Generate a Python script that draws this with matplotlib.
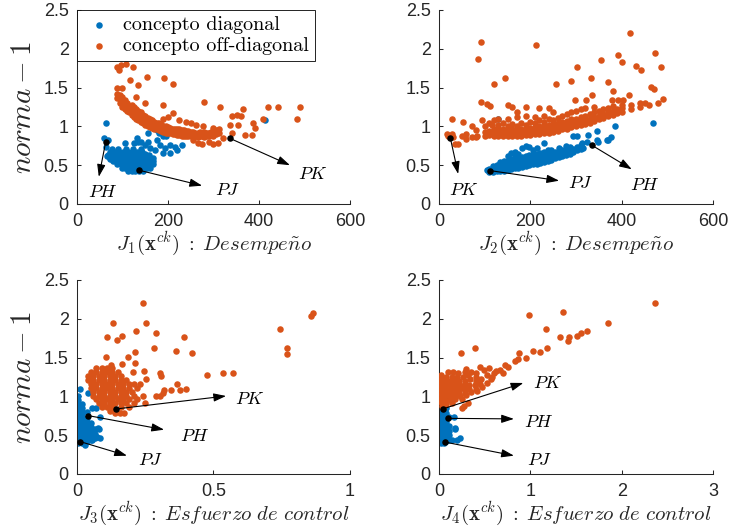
import numpy as np
import matplotlib
matplotlib.use("Agg")
import matplotlib.pyplot as plt

plt.rcParams['mathtext.fontset'] = 'cm'
plt.rcParams['font.family'] = ['Liberation Sans', 'DejaVu Sans']

BLUE = '#0072BD'
ORANGE = '#D95319'
GRAY = '#262626'

series_labels = ['concepto diagonal', 'concepto off-diagonal']

# ---------------- Panel 1: J1 vs norma-1 ----------------
p1_diag = [
    (63, 1.04), (59, 0.85), (68, 0.82), (63, 0.73), (66, 0.62), (72, 0.58), (105, 0.78), (125, 0.78),
    (131, 0.85), (135, 0.80), (140, 0.80), (150, 0.76), (160, 0.72), (165, 1.00), (175, 0.95), (180, 0.92),
    (190, 0.87), (196, 0.88), (175, 0.83), (182, 0.76), (193, 0.72), (204, 0.76), (215, 0.74), (230, 0.76),
    (171, 0.70), (189, 0.66), (149, 0.65), (205, 0.66), (220, 0.70), (413, 1.08), (157, 0.91), (155, 0.80),
    (112, 0.43), (120, 0.43), (128, 0.43), (136, 0.43), (144, 0.43),
    (98, 0.47), (106, 0.47), (114, 0.47), (122, 0.47), (130, 0.47), (138, 0.47), (146, 0.47), (154, 0.47), (160, 0.47),
    (88, 0.51), (96, 0.51), (104, 0.51), (112, 0.51), (120, 0.51), (128, 0.51), (136, 0.51), (144, 0.51), (152, 0.51),
    (160, 0.51), (166, 0.51),
    (80, 0.55), (88, 0.55), (96, 0.55), (104, 0.55), (112, 0.55), (120, 0.55), (128, 0.55), (136, 0.55), (144, 0.55),
    (152, 0.55), (160, 0.55), (168, 0.55),
    (72, 0.59), (80, 0.59), (88, 0.59), (96, 0.59), (104, 0.59), (112, 0.59), (120, 0.59), (128, 0.59), (136, 0.59),
    (144, 0.59), (152, 0.59), (160, 0.59), (168, 0.59),
    (68, 0.63), (76, 0.63), (86, 0.63), (94, 0.63), (102, 0.63), (110, 0.63), (118, 0.63), (126, 0.63), (134, 0.63),
    (142, 0.63), (150, 0.63), (158, 0.63),
    (72, 0.67), (82, 0.67), (92, 0.67), (102, 0.67), (112, 0.67), (122, 0.67), (132, 0.67), (142, 0.67),
    (76, 0.71), (90, 0.71), (108, 0.71), (124, 0.71), (140, 0.71),
]
p1_off = [
    (87, 1.77), (92, 1.73), (108, 1.81), (123, 1.77), (97, 1.79),
    (88, 1.50), (98, 1.49), (116, 1.60), (134, 1.53), (153, 1.64), (191, 1.62), (211, 1.55), (189, 1.28),
    (279, 1.31), (314, 1.25), (365, 1.22), (341, 1.14), (420, 1.25), (442, 1.25), (490, 1.25), (483, 1.10),
    (409, 1.10), (387, 1.04), (391, 0.98), (369, 0.89), (385, 0.89), (354, 1.02), (336, 1.02), (352, 1.15),
    (360, 1.13), (340, 0.91), (150, 1.30), (130, 1.38), (225, 1.08), (240, 1.06), (262, 1.02), (212, 1.17),
    (200, 1.12), (190, 1.10), (278, 1.00), (300, 0.98), (250, 1.04),
    (88, 1.42), (88, 1.36), (95, 1.40), (95, 1.30), (95, 1.35), (100, 1.33), (100, 1.25), (100, 1.38),
    (105, 1.28), (105, 1.22), (105, 1.34), (110, 1.30), (110, 1.20), (110, 1.25), (115, 1.18), (115, 1.26),
    (115, 1.22), (120, 1.15), (120, 1.23), (120, 1.28), (125, 1.12), (125, 1.19), (125, 1.25), (130, 1.10),
    (130, 1.16), (130, 1.22), (135, 1.08), (135, 1.14), (135, 1.20), (140, 1.06), (140, 1.12), (140, 1.18),
    (145, 1.04), (145, 1.10), (145, 1.15), (150, 1.02), (150, 1.08), (150, 1.13), (155, 1.01), (155, 1.06),
    (155, 1.11), (160, 0.99), (160, 1.04), (160, 1.09), (165, 0.98), (165, 1.03), (165, 1.08), (170, 0.97),
    (170, 1.01), (170, 1.06), (175, 0.96), (175, 1.00), (175, 1.05), (180, 0.95), (180, 0.99), (180, 1.04),
    (185, 0.94), (185, 0.98), (185, 1.03), (190, 0.93), (190, 0.97), (190, 1.01), (195, 0.92), (195, 0.96),
    (195, 1.00), (200, 0.92), (200, 0.95), (200, 0.99), (205, 0.91), (205, 0.94), (205, 0.98), (210, 0.90),
    (210, 0.94), (210, 0.97), (215, 0.90), (215, 0.93), (215, 0.97), (220, 0.89), (220, 0.93), (220, 0.96),
    (225, 0.89), (225, 0.92), (225, 0.96), (230, 0.88), (230, 0.92), (230, 0.95), (235, 0.88), (235, 0.91),
    (235, 0.95), (240, 0.88), (240, 0.91), (240, 0.94), (245, 0.87), (245, 0.90), (245, 0.94), (250, 0.87),
    (250, 0.90), (250, 0.93), (255, 0.87), (255, 0.90), (255, 0.93), (260, 0.87), (260, 0.89), (260, 0.92),
    (265, 0.86), (265, 0.90), (265, 0.92), (270, 0.87), (270, 0.90), (270, 0.93), (275, 0.87), (275, 0.91),
    (280, 0.86), (280, 0.90), (280, 0.93), (285, 0.88), (285, 0.92), (290, 0.87), (290, 0.91), (295, 0.89),
    (295, 0.93), (300, 0.88), (300, 0.94), (305, 0.90), (305, 0.95), (312, 0.92), (312, 0.96),
    (265, 0.78), (275, 0.77), (300, 0.77), (310, 0.79), (255, 0.82), (290, 0.80), (320, 0.85),
]

# ---------------- Panel 2: J2 vs norma-1 ----------------
p2_diag = [
    (104, 0.44), (110, 0.41), (110, 0.45), (118, 0.41), (118, 0.45), (118, 0.49), (126, 0.42), (126, 0.46),
    (126, 0.50), (134, 0.42), (134, 0.46), (134, 0.50), (134, 0.54), (142, 0.43), (142, 0.47), (142, 0.51),
    (142, 0.55), (150, 0.44), (150, 0.48), (150, 0.52), (150, 0.56), (150, 0.62), (158, 0.45), (158, 0.49),
    (158, 0.53), (158, 0.58), (158, 0.66), (166, 0.46), (166, 0.50), (166, 0.54), (166, 0.60), (166, 0.67),
    (174, 0.47), (174, 0.51), (174, 0.55), (174, 0.60), (174, 0.65), (182, 0.48), (182, 0.52), (182, 0.56),
    (182, 0.61), (182, 0.72), (190, 0.49), (190, 0.53), (190, 0.57), (190, 0.62), (190, 0.75), (198, 0.50),
    (198, 0.54), (198, 0.58), (198, 0.63), (198, 0.74), (206, 0.51), (206, 0.55), (206, 0.59), (206, 0.64),
    (206, 0.70), (214, 0.52), (214, 0.56), (214, 0.60), (214, 0.65), (214, 0.72), (222, 0.53), (222, 0.57),
    (222, 0.61), (222, 0.66), (230, 0.54), (230, 0.58), (230, 0.62), (230, 0.67), (230, 0.78), (238, 0.56),
    (238, 0.60), (238, 0.64), (238, 0.69), (246, 0.57), (246, 0.61), (246, 0.65), (246, 0.70), (254, 0.59),
    (254, 0.63), (254, 0.67), (262, 0.60), (262, 0.64), (262, 0.68), (262, 0.72), (270, 0.62), (270, 0.66),
    (270, 0.70), (278, 0.63), (278, 0.67), (278, 0.71), (278, 0.75), (286, 0.65), (286, 0.69), (286, 0.73),
    (294, 0.67), (294, 0.71), (294, 0.87), (302, 0.69), (302, 0.73), (302, 0.87), (310, 0.71), (310, 0.76),
    (468, 1.04), (386, 1.00), (347, 0.94), (326, 0.89), (349, 0.80), (369, 0.83), (377, 0.86), (313, 0.78),
    (316, 0.72), (345, 0.82), (367, 0.82), (323, 0.80), (130, 1.10),
]
p2_off = [
    (86, 1.87), (92, 2.09), (213, 2.05), (120, 1.55), (145, 1.63), (92, 1.31), (104, 1.29), (112, 1.26),
    (152, 1.28), (160, 1.25), (170, 1.19), (191, 1.25), (219, 1.24), (240, 1.24), (257, 1.55), (289, 1.59),
    (303, 1.76), (297, 1.34), (322, 1.34), (335, 1.40), (333, 1.62), (355, 1.86), (371, 1.57), (391, 1.92),
    (400, 1.83), (419, 2.20), (431, 1.78), (443, 1.73), (473, 1.94), (485, 1.77), (490, 1.35), (471, 1.48),
    (465, 1.51), (452, 1.30), (382, 1.45), (393, 1.34), (378, 1.34), (403, 1.34), (415, 1.40),
    (17, 0.90), (29, 0.90), (42, 0.77), (35, 0.77), (50, 0.87), (29, 1.10), (53, 1.06), (72, 1.00), (72, 0.86),
    (84, 0.88), (94, 1.08), (115, 1.02),
    (20, 0.88), (30, 0.86), (60, 0.84), (60, 0.90), (80, 0.86), (80, 0.95), (100, 0.88), (100, 0.93),
    (100, 1.00), (110, 0.89), (110, 0.94), (110, 1.05), (120, 0.88), (120, 0.92), (120, 0.97), (120, 1.08),
    (130, 0.87), (130, 0.91), (130, 0.96), (130, 1.02), (130, 1.10), (140, 0.88), (140, 0.92), (140, 0.97),
    (140, 1.05), (150, 0.87), (150, 0.91), (150, 0.95), (150, 1.00), (150, 1.10), (160, 0.88), (160, 0.92),
    (160, 0.96), (160, 1.03), (170, 0.87), (170, 0.91), (170, 0.95), (170, 1.00), (170, 1.12), (180, 0.88),
    (180, 0.92), (180, 0.96), (180, 1.04), (190, 0.89), (190, 0.93), (190, 0.97), (190, 1.02), (190, 1.13),
    (200, 0.89), (200, 0.93), (200, 0.98), (200, 1.06), (210, 0.90), (210, 0.94), (210, 0.99), (210, 1.04),
    (210, 1.12), (220, 0.90), (220, 0.95), (220, 1.00), (220, 1.08), (230, 0.91), (230, 0.96), (230, 1.01),
    (230, 1.06), (230, 1.14), (240, 0.92), (240, 0.97), (240, 1.02), (240, 1.10), (250, 0.93), (250, 0.98),
    (250, 1.03), (250, 1.08), (250, 1.18), (260, 0.94), (260, 0.99), (260, 1.04), (260, 1.11), (270, 0.96),
    (270, 1.01), (270, 1.06), (270, 1.13), (280, 0.97), (280, 1.02), (280, 1.07), (280, 1.16), (290, 0.99),
    (290, 1.04), (290, 1.09), (290, 1.18), (300, 1.00), (300, 1.05), (300, 1.10), (300, 1.20), (310, 1.02),
    (310, 1.07), (310, 1.12), (310, 1.22), (320, 1.03), (320, 1.08), (320, 1.14), (320, 1.24), (330, 1.05),
    (330, 1.10), (330, 1.16), (340, 1.07), (340, 1.12), (340, 1.18), (340, 1.25), (350, 1.09), (350, 1.14),
    (350, 1.20), (360, 1.11), (360, 1.16), (360, 1.22), (370, 1.13), (370, 1.18), (370, 1.24), (380, 1.15),
    (380, 1.20), (380, 1.26), (390, 1.17), (390, 1.22), (400, 1.19), (400, 1.24), (400, 1.28), (420, 1.22),
    (420, 1.27), (440, 1.25), (440, 1.30), (460, 1.27), (480, 1.30),
]

# ---------------- Panel 3: J3 vs norma-1 ----------------
p3_diag = [
    (0.005, 0.40), (0.005, 0.45), (0.005, 0.50), (0.005, 0.55), (0.005, 0.60), (0.005, 0.65), (0.005, 0.70),
    (0.005, 0.75), (0.005, 0.80), (0.005, 0.85), (0.005, 0.90), (0.005, 0.95), (0.005, 1.00),
    (0.02, 0.40), (0.02, 0.45), (0.02, 0.50), (0.02, 0.55), (0.02, 0.60), (0.02, 0.65), (0.02, 0.70),
    (0.02, 0.75), (0.02, 0.80), (0.02, 0.85), (0.02, 0.90),
    (0.035, 0.42), (0.035, 0.47), (0.035, 0.52), (0.035, 0.57), (0.035, 0.62), (0.035, 0.67), (0.035, 0.72),
    (0.035, 0.80), (0.05, 0.44), (0.05, 0.49), (0.05, 0.55), (0.05, 0.60), (0.05, 0.66),
    (0.065, 0.46), (0.065, 0.52), (0.065, 0.58),
    (0.011, 1.10), (0.041, 1.04), (0.054, 0.85), (0.071, 0.85), (0.086, 0.73), (0.078, 0.59), (0.072, 0.48),
    (0.054, 0.44), (0.029, 0.37), (0.086, 0.47), (0.080, 0.58),
]
p3_off = [
    (0.07, 1.36), (0.09, 1.36), (0.11, 1.36), (0.13, 1.36),
    (0.05, 1.31), (0.07, 1.31), (0.09, 1.31), (0.11, 1.31), (0.13, 1.31), (0.15, 1.31),
    (0.04, 1.26), (0.06, 1.26), (0.08, 1.26), (0.10, 1.26), (0.12, 1.26), (0.14, 1.26), (0.16, 1.26),
    (0.04, 1.21), (0.06, 1.21), (0.08, 1.21), (0.10, 1.21), (0.12, 1.21), (0.14, 1.21), (0.16, 1.21), (0.18, 1.21),
    (0.05, 1.16), (0.07, 1.16), (0.09, 1.16), (0.11, 1.16), (0.13, 1.16), (0.15, 1.16), (0.17, 1.16), (0.19, 1.16),
    (0.21, 1.16), (0.23, 1.16),
    (0.05, 1.11), (0.07, 1.11), (0.09, 1.11), (0.11, 1.11), (0.13, 1.11), (0.15, 1.11), (0.17, 1.11), (0.19, 1.11),
    (0.22, 1.11),
    (0.06, 1.06), (0.08, 1.06), (0.10, 1.06), (0.12, 1.06), (0.14, 1.06), (0.16, 1.06), (0.18, 1.06), (0.20, 1.06),
    (0.06, 1.01), (0.08, 1.01), (0.10, 1.01), (0.12, 1.01), (0.14, 1.01), (0.16, 1.01), (0.18, 1.01), (0.21, 1.01),
    (0.24, 1.01),
    (0.07, 0.96), (0.09, 0.96), (0.11, 0.96), (0.13, 0.96), (0.15, 0.96), (0.17, 0.96), (0.19, 0.96), (0.22, 0.96),
    (0.08, 0.91), (0.10, 0.91), (0.12, 0.91), (0.14, 0.91), (0.16, 0.91), (0.18, 0.91), (0.21, 0.91), (0.25, 0.91),
    (0.09, 0.86), (0.11, 0.86), (0.13, 0.86), (0.16, 0.86), (0.19, 0.86), (0.12, 0.81), (0.14, 0.81),
    (0.138, 0.78), (0.156, 0.78), (0.171, 0.78),
    (0.24, 2.20), (0.133, 1.95), (0.252, 1.95), (0.11, 1.77), (0.147, 1.73), (0.166, 1.78), (0.218, 1.84),
    (0.291, 1.82), (0.392, 1.77), (0.282, 1.62), (0.364, 1.59), (0.422, 1.56), (0.212, 1.57), (0.212, 1.43),
    (0.166, 1.42), (0.187, 1.51), (0.105, 1.51), (0.126, 1.41), (0.244, 1.33), (0.205, 1.32), (0.303, 1.30),
    (0.309, 1.26), (0.254, 1.22), (0.477, 1.28), (0.535, 1.30), (0.570, 1.30), (0.367, 1.16), (0.401, 1.10),
    (0.377, 1.08), (0.344, 1.08), (0.320, 1.08), (0.315, 1.04), (0.289, 1.00), (0.303, 1.00),
    (0.743, 1.87), (0.770, 1.62), (0.770, 1.55), (0.858, 2.04), (0.865, 2.08),
]

# ---------------- Panel 4: J4 vs norma-1 ----------------
p4_diag = [
    (0.02, 0.40), (0.02, 0.45), (0.02, 0.50), (0.02, 0.55), (0.02, 0.60), (0.02, 0.65), (0.02, 0.70),
    (0.02, 0.75), (0.02, 0.80), (0.02, 0.85), (0.02, 0.90), (0.02, 0.95), (0.02, 1.00),
    (0.05, 0.40), (0.05, 0.45), (0.05, 0.50), (0.05, 0.55), (0.05, 0.60), (0.05, 0.65), (0.05, 0.70),
    (0.05, 0.75), (0.05, 0.80), (0.05, 0.85), (0.05, 0.90), (0.05, 0.95),
    (0.08, 0.42), (0.08, 0.47), (0.08, 0.52), (0.08, 0.57), (0.08, 0.62), (0.08, 0.67), (0.08, 0.72),
    (0.08, 0.78), (0.08, 0.85), (0.11, 0.44), (0.11, 0.50), (0.11, 0.56), (0.11, 0.62),
    (0.106, 0.74), (0.16, 0.74), (0.18, 0.59), (0.23, 0.46), (0.20, 0.44), (0.14, 0.44), (0.17, 0.58),
    (0.07, 0.98),
]
p4_off = [
    (0.02, 1.28), (0.10, 1.31), (0.15, 1.31), (0.21, 1.30), (0.28, 1.32),
    (0.02, 1.23), (0.08, 1.25), (0.14, 1.25), (0.20, 1.25), (0.26, 1.25), (0.32, 1.27), (0.40, 1.25),
    (0.02, 1.18), (0.07, 1.20), (0.12, 1.20), (0.17, 1.20), (0.22, 1.20), (0.28, 1.20), (0.34, 1.22),
    (0.40, 1.20), (0.46, 1.22),
    (0.02, 1.13), (0.07, 1.15), (0.12, 1.15), (0.17, 1.15), (0.22, 1.15), (0.27, 1.15), (0.33, 1.15),
    (0.39, 1.15), (0.45, 1.16), (0.52, 1.17),
    (0.02, 1.08), (0.07, 1.10), (0.12, 1.10), (0.17, 1.10), (0.22, 1.10), (0.27, 1.10), (0.33, 1.10),
    (0.40, 1.10), (0.47, 1.12),
    (0.02, 1.03), (0.07, 1.05), (0.12, 1.05), (0.17, 1.05), (0.22, 1.05), (0.28, 1.05), (0.35, 1.06),
    (0.42, 1.07),
    (0.02, 0.98), (0.07, 1.00), (0.12, 1.00), (0.17, 1.00), (0.23, 1.01), (0.30, 1.02),
    (0.02, 0.93), (0.07, 0.95), (0.12, 0.95), (0.18, 0.96), (0.25, 0.97),
    (0.03, 0.88), (0.08, 0.90), (0.14, 0.91), (0.27, 0.88), (0.32, 0.91), (0.04, 0.85), (0.25, 0.85),
    (0.55, 1.37), (0.49, 1.34), (0.60, 1.30), (0.62, 1.33), (0.67, 1.34), (0.72, 1.41), (0.83, 1.45),
    (0.86, 1.48), (0.88, 1.56), (0.95, 1.49), (1.03, 1.59), (1.11, 1.57), (1.18, 1.62), (1.17, 1.87),
    (0.98, 2.05), (1.32, 1.77), (1.36, 2.09), (1.41, 1.72), (1.42, 1.76), (1.51, 1.78), (1.56, 1.82),
    (1.62, 1.84), (1.85, 1.95), (2.37, 2.20), (0.39, 1.63), (0.24, 1.56), (0.45, 1.38), (0.52, 1.28),
    (0.57, 1.22), (0.35, 1.32), (0.30, 1.35), (0.40, 1.30), (0.58, 1.25), (0.76, 1.38), (0.70, 1.30),
]

# Highlighted solutions: (name, point, arrow head, label position)
p1_marks = [('PH', (63, 0.795), (48, 0.35), (57, 0.15)),
            ('PJ', (137, 0.434), (275, 0.236), (331, 0.17)),
            ('PK', (336, 0.846), (468, 0.50), (519, 0.38))]
p2_marks = [('PK', (25, 0.846), (42, 0.387), (55, 0.17)),
            ('PJ', (112, 0.43), (263, 0.30), (311, 0.266)),
            ('PH', (335, 0.756), (422, 0.447), (451, 0.24))]
p3_marks = [('PK', (0.143, 0.838), (0.546, 1.005), (0.634, 0.96)),
            ('PH', (0.0415, 0.752), (0.319, 0.571), (0.43, 0.48)),
            ('PJ', (0.012, 0.417), (0.183, 0.236), (0.27, 0.18))]
p4_marks = [('PK', (0.04, 0.838), (0.923, 1.173), (1.19, 1.16)),
            ('PH', (0.095, 0.717), (0.82, 0.71), (1.095, 0.666)),
            ('PJ', (0.07, 0.41), (0.82, 0.236), (1.10, 0.18))]

xlabels = [r'$J_1(\mathbf{x}^{ck})\;:\;Desempe\tilde{n}o$',
           r'$J_2(\mathbf{x}^{ck})\;:\;Desempe\tilde{n}o$',
           r'$J_3(\mathbf{x}^{ck})\;:\;Esfuerzo\ de\ control$',
           r'$J_4(\mathbf{x}^{ck})\;:\;Esfuerzo\ de\ control$']
ylabel = r'$norma - 1$'
xlims = [(0, 600), (0, 600), (0, 1), (0, 3)]
xticks = [[0, 200, 400, 600], [0, 200, 400, 600], [0, 0.5, 1], [0, 1, 2, 3]]
xticklabels = [['0', '200', '400', '600'], ['0', '200', '400', '600'], ['0', '0.5', '1'], ['0', '1', '2', '3']]
yticks = [0, 0.5, 1, 1.5, 2, 2.5]
yticklabels = ['0', '0.5', '1', '1.5', '2', '2.5']

fig = plt.figure(figsize=(7.29, 5.29), dpi=100)
positions = [[0.1056, 0.6144, 0.3745, 0.3667], [0.6022, 0.6144, 0.3759, 0.3667],
             [0.1056, 0.1040, 0.3745, 0.3667], [0.6022, 0.1040, 0.3759, 0.3667]]
diag_sets = [p1_diag, p2_diag, p3_diag, p4_diag]
off_sets = [p1_off, p2_off, p3_off, p4_off]
mark_sets = [p1_marks, p2_marks, p3_marks, p4_marks]

for i in range(4):
    ax = fig.add_axes(positions[i])
    d = np.array(diag_sets[i])
    o = np.array(off_sets[i])
    ax.scatter(d[:, 0], d[:, 1], s=22, color=BLUE, linewidths=0, label=series_labels[0], zorder=2)
    ax.scatter(o[:, 0], o[:, 1], s=22, color=ORANGE, linewidths=0, label=series_labels[1], zorder=3)
    for name, pt, head, lab in mark_sets[i]:
        ax.scatter([pt[0]], [pt[1]], s=22, color='k', linewidths=0, zorder=5)
        ax.annotate('', xy=head, xytext=pt,
                    arrowprops=dict(arrowstyle='-|>,head_length=0.75,head_width=0.25',
                                    color='k', lw=0.8, shrinkA=0, shrinkB=0), zorder=4)
        ax.text(lab[0], lab[1], '$' + name + '$', ha='center', va='center', fontsize=13, color='k')
    ax.set_xlim(*xlims[i])
    ax.set_ylim(0, 2.5)
    ax.set_xticks(xticks[i])
    ax.set_xticklabels(xticklabels[i])
    ax.set_yticks(yticks)
    ax.set_yticklabels(yticklabels)
    for side in ['top', 'right']:
        ax.spines[side].set_visible(False)
    for side in ['left', 'bottom']:
        ax.spines[side].set_color(GRAY)
        ax.spines[side].set_linewidth(0.75)
    ax.tick_params(direction='in', length=3, width=0.75, colors=GRAY, labelsize=13)
    ax.tick_params(axis='x', pad=6.5)
    ax.tick_params(axis='y', pad=6)
    ax.set_xlabel(xlabels[i], fontsize=15, color=GRAY, labelpad=0)
    if i in (0, 2):
        ax.set_ylabel(ylabel, fontsize=21, color=GRAY, labelpad=5)
    if i == 0:
        leg = ax.legend(loc='upper left', bbox_to_anchor=(0, 1), borderaxespad=0, fancybox=False,
                        framealpha=1, edgecolor='k', prop={'family': 'cmr10', 'size': 14.5},
                        handletextpad=0.4, borderpad=0.3, labelspacing=0.15, handlelength=1.6,
                        markerscale=1.0)
        leg.get_frame().set_linewidth(0.6)
        leg.set_zorder(10)

fig.savefig('out.png', dpi=100)
